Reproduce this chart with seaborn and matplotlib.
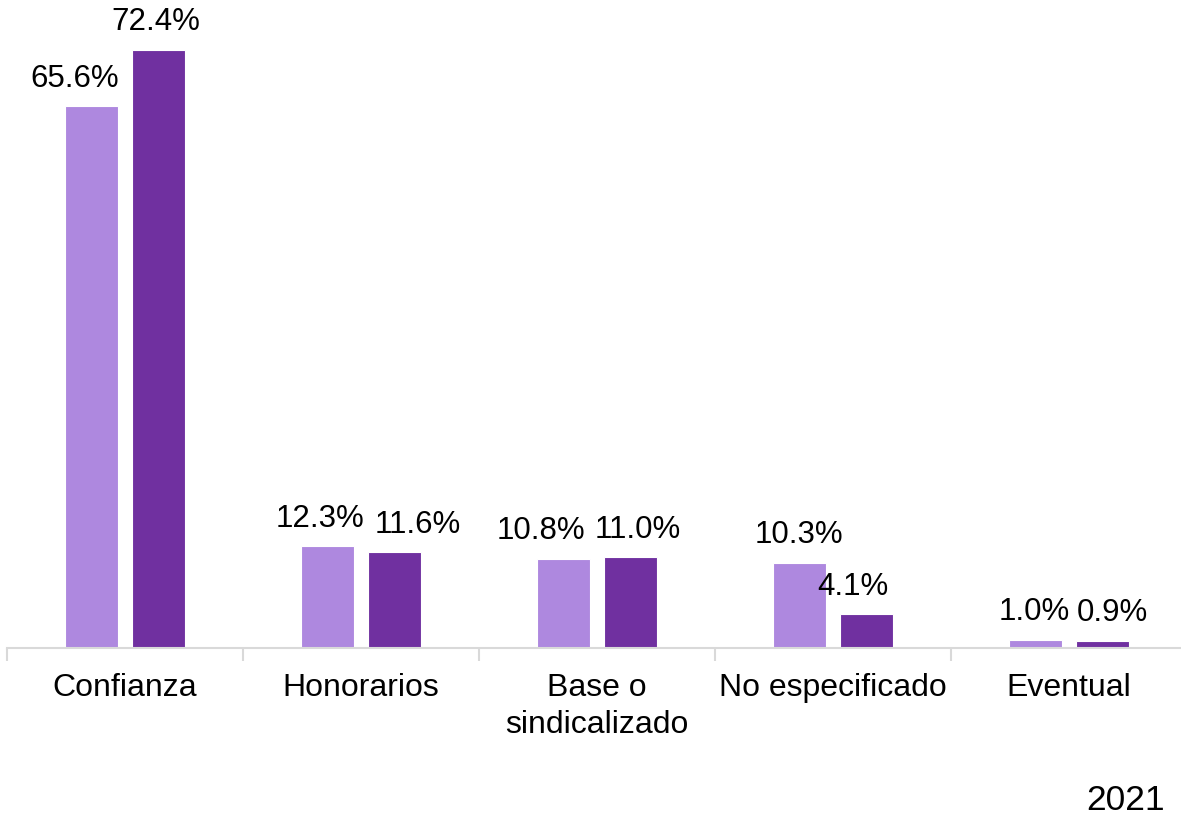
# Distribución por tipo de contratación, dos periodos
import pandas as pd
import matplotlib.pyplot as plt
import seaborn as sns

categorias = ["Confianza", "Honorarios", "Base o\nsindicalizado", "No especificado", "Eventual"]
periodo_previo = [65.6, 12.3, 10.8, 10.3, 1.0]
periodo_2021 = [72.4, 11.6, 11.0, 4.1, 0.9]
series = ["Previo", "2021"]
colores = ["#AE88DF", "#7030A0"]

# desplazamiento horizontal de las etiquetas (px), como en el original
desp_previo = [-16, -7, -22, 0, -1]
desp_2021 = [-3, 23, 7, -14, 9]

df = pd.DataFrame({
    "categoria": categorias * 2,
    "valor": periodo_previo + periodo_2021,
    "serie": [series[0]] * len(categorias) + [series[1]] * len(categorias),
})

sns.set_style("white")
plt.rcParams["font.family"] = ["Liberation Sans", "DejaVu Sans"]
plt.rcParams["text.color"] = "black"
plt.rcParams["xtick.color"] = "black"

fig = plt.figure(figsize=(11.81, 8.15), dpi=100)
ax = fig.add_axes([7 / 1181, 1 - 648 / 815, 1180 / 1181, 648 / 815])

sns.barplot(data=df, x="categoria", y="valor", hue="serie", order=categorias,
            hue_order=series, palette=colores, saturation=1, width=0.576, gap=0.22,
            edgecolor="white", linewidth=0.8, legend=False, ax=ax)

ax.set_ylim(0, 78.45)
ax.set_xlim(-0.5, 4.5)
ax.set_yticks([])
ax.set_xlabel("")
ax.set_ylabel("")
for s in ["top", "right", "left"]:
    ax.spines[s].set_visible(False)
ax.spines["bottom"].set_color("#D9D9D9")
ax.spines["bottom"].set_linewidth(1.5)

ax.set_xticks(range(len(categorias)))
ax.set_xticklabels(categorias, fontsize=23, linespacing=1.3, color="black")
ax.tick_params(axis="x", which="major", length=0, pad=18)
ax.set_xticks([i - 0.5 for i in range(len(categorias) + 1)], minor=True)
ax.tick_params(axis="x", which="minor", bottom=True, length=9, width=1.5, color="#D9D9D9")

# etiquetas de datos
for cont, desp in zip(ax.containers, [desp_previo, desp_2021]):
    for barra, v, dx in zip(cont, cont.datavalues, desp):
        ax.annotate(f"{v:.1f}%", (barra.get_x() + barra.get_width() / 2, v),
                    xytext=(dx * 0.72, 9), textcoords="offset points",
                    ha="center", va="bottom", fontsize=22.5, color="black")

fig.text(1165 / 1181, 1 - 810 / 815, "2021", fontsize=25.5, ha="right", va="baseline",
         color="black")

fig.savefig("out.png", dpi=100)
